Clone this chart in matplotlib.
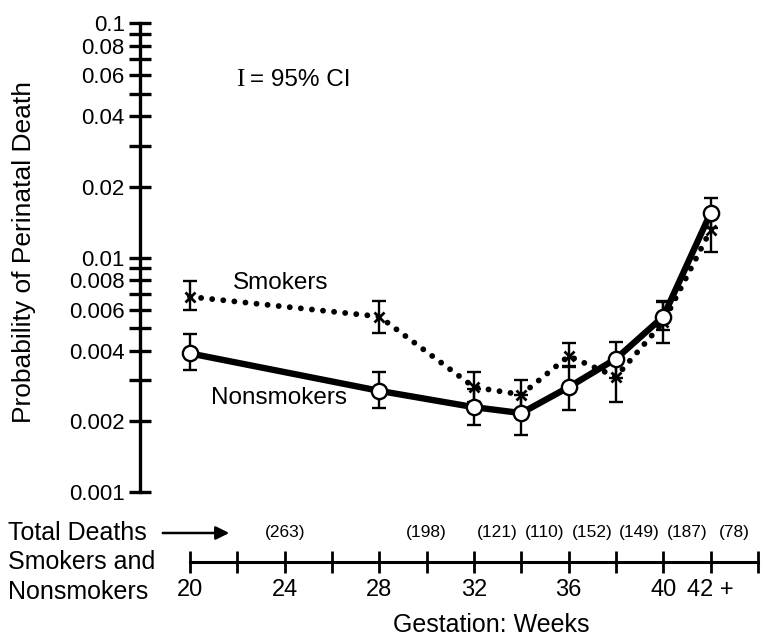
import matplotlib
matplotlib.use("Agg")
import matplotlib.pyplot as plt
from matplotlib.ticker import FixedLocator, NullFormatter

plt.rcParams['font.family'] = ['Liberation Sans', 'DejaVu Sans']

# gestation weeks where the points sit
weeks = [20, 28, 32, 34, 36, 38, 40, 42]

# nonsmokers: estimate and 95% CI bounds
nonsmokers = [0.0039, 0.0027, 0.0023, 0.00217, 0.0028, 0.0037, 0.0056, 0.0155]
nonsmokers_lo = [0.00331, 0.00228, 0.00193, 0.00175, 0.00224, 0.00306, 0.0049, 0.0134]
nonsmokers_hi = [0.00472, 0.00325, 0.00275, 0.0026, 0.00344, 0.00436, 0.00646, 0.0179]

# smokers: estimate and 95% CI bounds
smokers = [0.0068, 0.0056, 0.0028, 0.0026, 0.0038, 0.0031, 0.0053, 0.0131]
smokers_lo = [0.00597, 0.00476, 0.00242, 0.00224, 0.00341, 0.00242, 0.00431, 0.01054]
smokers_hi = [0.00794, 0.00653, 0.00325, 0.00301, 0.00431, 0.00372, 0.00653, 0.0155]

# total deaths per gestation interval (placed at interval midpoints)
death_weeks = [24, 30, 33, 35, 37, 39, 41, 43]
death_counts = [263, 198, 121, 110, 152, 149, 187, 78]

y_major = [0.001, 0.002, 0.004, 0.006, 0.008, 0.01, 0.02, 0.04, 0.06, 0.08, 0.1]
y_major_labels = ['0.001', '0.002', '0.004', '0.006', '0.008', '0.01', '0.02',
                  '0.04', '0.06', '0.08', '0.1']
y_minor = [0.003, 0.005, 0.007, 0.009, 0.03, 0.05, 0.07, 0.09]

x_ticks = [20, 22, 24, 26, 28, 30, 32, 34, 36, 38, 40, 42, 44]
x_labels = ['20', '', '24', '', '28', '', '32', '', '36', '', '40', '42 +', '']

W, H = 763, 636
fig = plt.figure(figsize=(W / 100, H / 100), dpi=100)
ax = fig.add_axes([190 / W, 1 - 492 / H, 568 / W, 469 / H])

ax.set_yscale('log')
ax.set_xlim(20, 44)
ax.set_ylim(0.001, 0.1)

for s in ['top', 'right']:
    ax.spines[s].set_visible(False)
ax.spines['left'].set_position(('outward', 36))
ax.spines['left'].set_linewidth(2.4)
ax.spines['bottom'].set_position(('outward', 50.4))
ax.spines['bottom'].set_linewidth(2.2)

ax.yaxis.set_major_locator(FixedLocator(y_major))
ax.yaxis.set_minor_locator(FixedLocator(y_minor))
ax.set_yticklabels(y_major_labels)
ax.yaxis.set_minor_formatter(NullFormatter())
ax.tick_params(axis='y', which='both', direction='inout', length=16, width=2.4,
               labelsize=16, pad=3)

ax.set_xticks(x_ticks)
ax.set_xticklabels(x_labels)
ax.tick_params(axis='x', direction='inout', length=16, width=2.0,
               labelsize=17, pad=4)

# error bars
ax.errorbar(weeks, smokers,
            yerr=[[v - l for v, l in zip(smokers, smokers_lo)],
                  [h - v for v, h in zip(smokers, smokers_hi)]],
            fmt='none', ecolor='black', elinewidth=1.7, capsize=5, capthick=1.7,
            clip_on=False, zorder=3)
ax.errorbar(weeks, nonsmokers,
            yerr=[[v - l for v, l in zip(nonsmokers, nonsmokers_lo)],
                  [h - v for v, h in zip(nonsmokers, nonsmokers_hi)]],
            fmt='none', ecolor='black', elinewidth=1.7, capsize=5, capthick=1.7,
            clip_on=False, zorder=3)

# smokers: dotted line with x markers
ax.plot(weeks, smokers, color='black', linewidth=4.2,
        linestyle=(0, (0.01, 1.9)), dash_capstyle='round', clip_on=False, zorder=4)
ax.plot(weeks, smokers, linestyle='none', marker='x', markersize=7,
        markeredgewidth=2.0, color='black', clip_on=False, zorder=5)

# nonsmokers: heavy solid line with open circles
ax.plot(weeks, nonsmokers, color='black', linewidth=4.6, marker='o',
        markersize=11, markerfacecolor='white', markeredgecolor='black',
        markeredgewidth=1.7, clip_on=False, zorder=6)

ax.set_ylabel('Probability of Perinatal Death', fontsize=19)
ax.yaxis.set_label_coords(-0.272, 0.512)

# inline series labels, placed in pixel space
fig.text(233 / W, 1 - 283 / H, 'Smokers', fontsize=17.5, ha='left', va='center')
fig.text(211 / W, 1 - 398 / H, 'Nonsmokers', fontsize=17.5, ha='left', va='center')

# CI key
fig.text(240 / W, 1 - 80 / H, 'I', family='Liberation Serif', fontsize=18,
         ha='center', va='center')
fig.text(250 / W, 1 - 80 / H, '= 95% CI', fontsize=17.5, ha='left', va='center')

# death counts under the curve
for wk, n in zip(death_weeks, death_counts):
    ax.text(wk, -0.0874, '({})'.format(n), transform=ax.get_xaxis_transform(),
            fontsize=12.5, ha='center', va='center')

fig.text(8 / W, 1 - 533 / H, 'Total Deaths', fontsize=18, ha='left', va='center')
fig.text(8 / W, 1 - 562 / H, 'Smokers and', fontsize=18, ha='left', va='center')
fig.text(8 / W, 1 - 592 / H, 'Nonsmokers', fontsize=18, ha='left', va='center')
ax.annotate('', xy=(232 / W, 1 - 533 / H), xytext=(160 / W, 1 - 533 / H),
            xycoords='figure fraction', textcoords='figure fraction',
            arrowprops=dict(arrowstyle='-|>', color='black', lw=1.8,
                            mutation_scale=20))

ax.text((491 - 190) / 568, (492 - 625) / 469, 'Gestation: Weeks',
        transform=ax.transAxes, fontsize=18, ha='center', va='center')

fig.savefig('out.png', dpi=100)
